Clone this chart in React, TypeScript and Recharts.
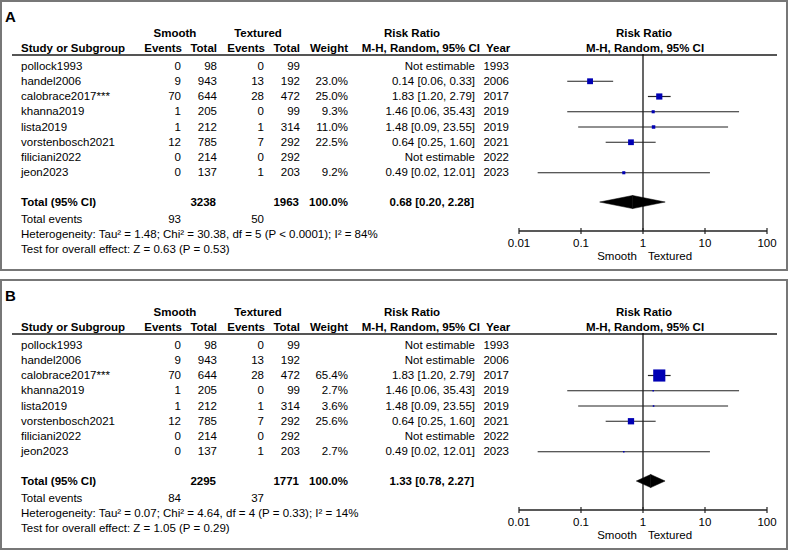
import React from "react";
import {
  ComposedChart,
  Scatter,
  ErrorBar,
  XAxis,
  YAxis,
  ReferenceLine,
  ReferenceArea,
} from "recharts";

const studies = [
  "pollock1993",
  "handel2006",
  "calobrace2017***",
  "khanna2019",
  "lista2019",
  "vorstenbosch2021",
  "filiciani2022",
  "jeon2023",
];
const years = [1993, 2006, 2017, 2019, 2019, 2021, 2022, 2023];
const smoothEvents = [0, 9, 70, 1, 1, 12, 0, 0];
const smoothTotals = [98, 943, 644, 205, 212, 785, 214, 137];
const texturedEvents = [0, 13, 28, 0, 1, 7, 0, 1];
const texturedTotals = [99, 192, 472, 99, 314, 292, 292, 203];

// all studies
const rrA = [null, 0.14, 1.83, 1.46, 1.48, 0.64, null, 0.49];
const lowerA = [null, 0.06, 1.2, 0.06, 0.09, 0.25, null, 0.02];
const upperA = [null, 0.33, 2.79, 35.43, 23.55, 1.6, null, 12.01];
const weightA = [null, 23.0, 25.0, 9.3, 11.0, 22.5, null, 9.2];
const pooledA = [0.68, 0.2, 2.28];
const totalsA = [3238, 1963];
const eventsA = [93, 50];
const hetA = "Heterogeneity: Tau² = 1.48; Chi² = 30.38, df = 5 (P < 0.0001); I² = 84%";
const testA = "Test for overall effect: Z = 0.63 (P = 0.53)";

// handel2006 left out
const rrB = [null, null, 1.83, 1.46, 1.48, 0.64, null, 0.49];
const lowerB = [null, null, 1.2, 0.06, 0.09, 0.25, null, 0.02];
const upperB = [null, null, 2.79, 35.43, 23.55, 1.6, null, 12.01];
const weightB = [null, null, 65.4, 2.7, 3.6, 25.6, null, 2.7];
const pooledB = [1.33, 0.78, 2.27];
const totalsB = [2295, 1771];
const eventsB = [84, 37];
const hetB = "Heterogeneity: Tau² = 0.07; Chi² = 4.64, df = 4 (P = 0.33); I² = 14%";
const testB = "Test for overall effect: Z = 1.05 (P = 0.29)";

const axisTicks = [0.01, 0.1, 1, 10, 100];

const FONT = "Arial, 'Liberation Sans', Helvetica, sans-serif";
const FS = 11.5;
const ROW0 = 66;
const ROW_STEP = 15.25;
const TOTAL_ROW = 8.92;
const rowY = (i: number) => ROW0 + ROW_STEP * i;

type Align = "left" | "right" | "center";

function T({
  x,
  y,
  align = "left",
  bold = false,
  size = FS,
  children,
}: {
  x: number;
  y: number;
  align?: Align;
  bold?: boolean;
  size?: number;
  children: React.ReactNode;
}) {
  const w = 400;
  const left = align === "left" ? x : align === "right" ? x - w : x - w / 2;
  return (
    <div
      style={{
        position: "absolute",
        left,
        top: y - 7.5,
        width: w,
        height: 15,
        lineHeight: "15px",
        fontSize: size,
        fontWeight: bold ? 700 : 400,
        textAlign: align,
        whiteSpace: "nowrap",
        color: "#000",
      }}
    >
      {children}
    </div>
  );
}

const fmtCI = (r: number, lo: number, hi: number) =>
  `${r.toFixed(2)} [${lo.toFixed(2)}, ${hi.toFixed(2)}]`;

const Square = (props: any) => {
  const { cx, cy, payload } = props;
  const s = Math.max(1.5, 0.65 * Math.pow(payload.weight, 0.7));
  return <rect x={cx - s / 2} y={cy - s / 2} width={s} height={s} fill="#0000b4" />;
};

const AxisTick = (props: any) => {
  const { x, y, payload } = props;
  return (
    <g>
      <line x1={x} x2={x} y1={y - 3} y2={y + 3} stroke="#222" strokeWidth={1.2} />
      <text x={x} y={y + 16} textAnchor="middle" fontSize={FS} fontFamily={FONT} fill="#000">
        {payload.value}
      </text>
    </g>
  );
};

const LeftHalf = (props: any) => {
  const { x, y, width, height } = props;
  return (
    <polygon
      points={`${x},${y + height / 2} ${x + width},${y} ${x + width},${y + height}`}
      fill="#000"
      stroke="#000"
      strokeWidth={0.5}
    />
  );
};

const RightHalf = (props: any) => {
  const { x, y, width, height } = props;
  return (
    <polygon
      points={`${x},${y} ${x + width},${y + height / 2} ${x},${y + height}`}
      fill="#000"
      stroke="#000"
      strokeWidth={0.5}
    />
  );
};

function Panel({
  label,
  top,
  rr,
  lower,
  upper,
  weight,
  pooled,
  totals,
  events,
  het,
  test,
}: {
  label: string;
  top: number;
  rr: (number | null)[];
  lower: (number | null)[];
  upper: (number | null)[];
  weight: (number | null)[];
  pooled: number[];
  totals: number[];
  events: number[];
  het: string;
  test: string;
}) {
  const points = studies
    .map((s, i) =>
      rr[i] == null
        ? null
        : {
            study: s,
            rr: rr[i] as number,
            row: i,
            weight: weight[i] as number,
            err: [(rr[i] as number) - (lower[i] as number), (upper[i] as number) - (rr[i] as number)],
          }
    )
    .filter(Boolean) as any[];

  const totalY = rowY(TOTAL_ROW);

  return (
    <div style={{ position: "absolute", left: 0, top, width: 788, height: 271 }}>
      <div
        style={{
          position: "absolute",
          left: 0,
          top: 0,
          width: 788,
          height: 271,
          border: "2px solid #777",
          boxSizing: "border-box",
        }}
      />
      <T x={5} y={16} bold size={15}>
        {label}
      </T>

      {/* column headers */}
      <T x={175} y={33} align="center" bold>Smooth</T>
      <T x={258} y={33} align="center" bold>Textured</T>
      <T x={412} y={33} align="center" bold>Risk Ratio</T>
      <T x={644} y={33} align="center" bold>Risk Ratio</T>
      <T x={21} y={48.5} bold>Study or Subgroup</T>
      <T x={182} y={48.5} align="right" bold>Events</T>
      <T x={217} y={48.5} align="right" bold>Total</T>
      <T x={265} y={48.5} align="right" bold>Events</T>
      <T x={300} y={48.5} align="right" bold>Total</T>
      <T x={348} y={48.5} align="right" bold>Weight</T>
      <T x={480} y={48.5} align="right" bold>M-H, Random, 95% CI</T>
      <T x={486} y={48.5} bold>Year</T>
      <T x={645} y={48.5} align="center" bold>M-H, Random, 95% CI</T>
      <div
        style={{ position: "absolute", left: 12, top: 54, width: 765, height: 2, background: "#555" }}
      />

      {studies.map((s, i) => {
        const y = rowY(i);
        return (
          <React.Fragment key={s}>
            <T x={21} y={y}>{s}</T>
            <T x={181} y={y} align="right">{smoothEvents[i]}</T>
            <T x={217} y={y} align="right">{smoothTotals[i]}</T>
            <T x={264} y={y} align="right">{texturedEvents[i]}</T>
            <T x={300} y={y} align="right">{texturedTotals[i]}</T>
            {weight[i] != null && (
              <T x={348} y={y} align="right">{(weight[i] as number).toFixed(1)}%</T>
            )}
            <T x={475} y={y} align="right">
              {rr[i] == null
                ? "Not estimable"
                : fmtCI(rr[i] as number, lower[i] as number, upper[i] as number)}
            </T>
            <T x={509} y={y} align="right">{years[i]}</T>
          </React.Fragment>
        );
      })}

      <T x={21} y={totalY} bold>Total (95% CI)</T>
      <T x={216} y={totalY} align="right" bold>{totals[0]}</T>
      <T x={299} y={totalY} align="right" bold>{totals[1]}</T>
      <T x={348} y={totalY} align="right" bold>100.0%</T>
      <T x={474} y={totalY} align="right" bold>{fmtCI(pooled[0], pooled[1], pooled[2])}</T>
      <T x={21} y={219}>Total events</T>
      <T x={181} y={219} align="right">{events[0]}</T>
      <T x={264} y={219} align="right">{events[1]}</T>
      <T x={21} y={234}>{het}</T>
      <T x={21} y={249}>{test}</T>

      <T x={617} y={256} align="center">Smooth</T>
      <T x={670} y={256} align="center">Textured</T>

      <div style={{ position: "absolute", left: 500, top: 40 }}>
        <ComposedChart
          width={280}
          height={228}
          margin={{ top: 14, right: 13, bottom: 7, left: 19 }}
        >
          <XAxis
            type="number"
            dataKey="rr"
            scale="log"
            domain={[0.01, 100]}
            ticks={axisTicks}
            allowDataOverflow
            height={30}
            tickSize={0}
            tickMargin={0}
            tickLine={false}
            axisLine={{ stroke: "#222", strokeWidth: 1.6 }}
            tick={<AxisTick />}
            interval={0}
          />
          <YAxis
            type="number"
            dataKey="row"
            domain={[-0.787, 10.82]}
            reversed
            allowDataOverflow
            hide
          />
          <ReferenceLine x={1} stroke="#000" strokeWidth={1.2} />
          <ReferenceArea
            x1={pooled[1]}
            x2={pooled[0]}
            y1={TOTAL_ROW - 0.43}
            y2={TOTAL_ROW + 0.43}
            shape={<LeftHalf />}
          />
          <ReferenceArea
            x1={pooled[0]}
            x2={pooled[2]}
            y1={TOTAL_ROW - 0.43}
            y2={TOTAL_ROW + 0.43}
            shape={<RightHalf />}
          />
          <Scatter data={points} shape={<Square />} isAnimationActive={false}>
            <ErrorBar
              dataKey="err"
              direction="x"
              width={0}
              stroke="#222"
              strokeWidth={1.2}
              isAnimationActive={false}
            />
          </Scatter>
        </ComposedChart>
      </div>
    </div>
  );
}

export default function App() {
  return (
    <div
      style={{
        position: "absolute",
        left: 0,
        top: 0,
        width: 788,
        height: 551,
        background: "#fff",
        fontFamily: FONT,
      }}
    >
      <Panel
        label="A"
        top={0}
        rr={rrA}
        lower={lowerA}
        upper={upperA}
        weight={weightA}
        pooled={pooledA}
        totals={totalsA}
        events={eventsA}
        het={hetA}
        test={testA}
      />
      <Panel
        label="B"
        top={279}
        rr={rrB}
        lower={lowerB}
        upper={upperB}
        weight={weightB}
        pooled={pooledB}
        totals={totalsB}
        events={eventsB}
        het={hetB}
        test={testB}
      />
    </div>
  );
}
